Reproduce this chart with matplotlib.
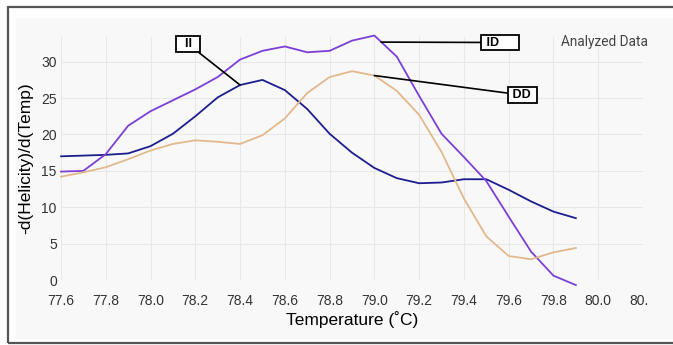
import matplotlib
matplotlib.use('Agg')
import matplotlib.pyplot as plt
from matplotlib.patches import Rectangle
from matplotlib.transforms import Bbox

temps = [77.6, 77.7, 77.8, 77.9, 78.0, 78.1, 78.2, 78.3, 78.4, 78.5, 78.6, 78.7,
         78.8, 78.9, 79.0, 79.1, 79.2, 79.3, 79.4, 79.5, 79.6, 79.7, 79.8, 79.9]

ii_values = [17.0, 17.1, 17.2, 17.4, 18.4, 20.1, 22.5, 25.1, 26.8, 27.5, 26.1, 23.5,
             20.1, 17.5, 15.4, 14.0, 13.3, 13.4, 13.85, 13.85, 12.4, 10.8, 9.4, 8.5]
id_values = [14.9, 15.0, 17.3, 21.2, 23.2, 24.7, 26.2, 27.9, 30.3, 31.5, 32.1, 31.3,
             31.5, 32.9, 33.6, 30.7, 25.3, 20.1, 16.9, 13.6, 8.7, 3.9, 0.6, -0.7]
dd_values = [14.2, 14.8, 15.5, 16.6, 17.8, 18.7, 19.2, 19.0, 18.7, 19.9, 22.2, 25.7,
             27.9, 28.7, 28.1, 26.0, 22.7, 17.6, 11.2, 6.0, 3.3, 2.85, 3.8, 4.4]

x_ticks = [77.6, 77.8, 78.0, 78.2, 78.4, 78.6, 78.8, 79.0, 79.2, 79.4, 79.6, 79.8, 80.0, 80.2]
y_ticks = [0, 5, 10, 15, 20, 25, 30]

# annotation anchors: (label, x, y on curve, box centre in figure pixels)
labels = [
    ('  II  ', 78.4, 26.8, (188, 301)),
    (' ID     ', 79.03, 32.7, (500, 302.5)),
    (' DD ', 79.0, 28.1, (522, 250)),
]

W, H = 673, 345
fig = plt.figure(figsize=(W / 100, H / 100), dpi=100)
fig.patch.set_facecolor('white')

# outer frame and grey panel
fig.patches.append(Rectangle((16 / W, 6 / H), 1, 321 / H, transform=fig.transFigure,
                             facecolor='#f8f8f8', edgecolor='none', zorder=-2))
fig.patches.append(Rectangle((8 / W, 2 / H), 1, 336 / H, transform=fig.transFigure,
                             facecolor='none', edgecolor='#555555', linewidth=1.6, zorder=-1))

ax = fig.add_axes([61 / W, 65 / H, 582 / W, 243 / H])
ax.set_facecolor('#f8f8f8')
for s in ax.spines.values():
    s.set_visible(False)

ax.plot(temps, ii_values, color='#1d1d8f', linewidth=1.3, clip_on=False)
ax.plot(temps, id_values, color='#7c3fd6', linewidth=1.3, clip_on=False)
ax.plot(temps, dd_values, color='#e2b98c', linewidth=1.3, clip_on=False)

ax.set_xlim(77.6, 80.2)
ax.set_ylim(0, 33.4)
ax.set_xticks(x_ticks)
ax.set_xticklabels([f'{t:.1f}' for t in x_ticks])
ax.set_yticks(y_ticks)
ax.grid(True, color='#e8e8e8', linewidth=0.8)
ax.set_axisbelow(True)
ax.tick_params(length=0, labelsize=10, labelcolor='#333333')
ax.tick_params(axis='x', pad=10)
ax.tick_params(axis='y', pad=3)
for lbl in ax.get_xticklabels() + ax.get_yticklabels():
    lbl.set_family(['Liberation Sans Narrow', 'Liberation Sans'])

# the last x label is cut off by the panel edge in the original
last = ax.get_xticklabels()[-1]
last.set_clip_box(Bbox([[0, 0], [649, H]]))
last.set_clip_on(True)

ax.set_xlabel('Temperature (˚C)', fontsize=12.5, family='Liberation Sans', labelpad=2)
ax.set_ylabel('-d(Helicity)/d(Temp)', fontsize=12.5, family='Liberation Sans', labelpad=6)

ax.text(648 / W, (H - 42) / H, 'Analyzed Data', transform=fig.transFigure,
        ha='right', va='center', fontsize=9.8, family='Roboto', color='#444444')

for text, tx, ty, (bx, by) in labels:
    ax.annotate(text, xy=(tx, ty), xytext=(bx, by), textcoords='figure pixels',
                ha='center', va='center', fontsize=9, fontweight='bold',
                family='Liberation Sans',
                bbox=dict(boxstyle='square,pad=0.15', facecolor='white',
                          edgecolor='black', linewidth=1.3),
                arrowprops=dict(arrowstyle='-', color='black', linewidth=1.2,
                                shrinkA=0, shrinkB=0))

fig.savefig('out.png', dpi=100)
